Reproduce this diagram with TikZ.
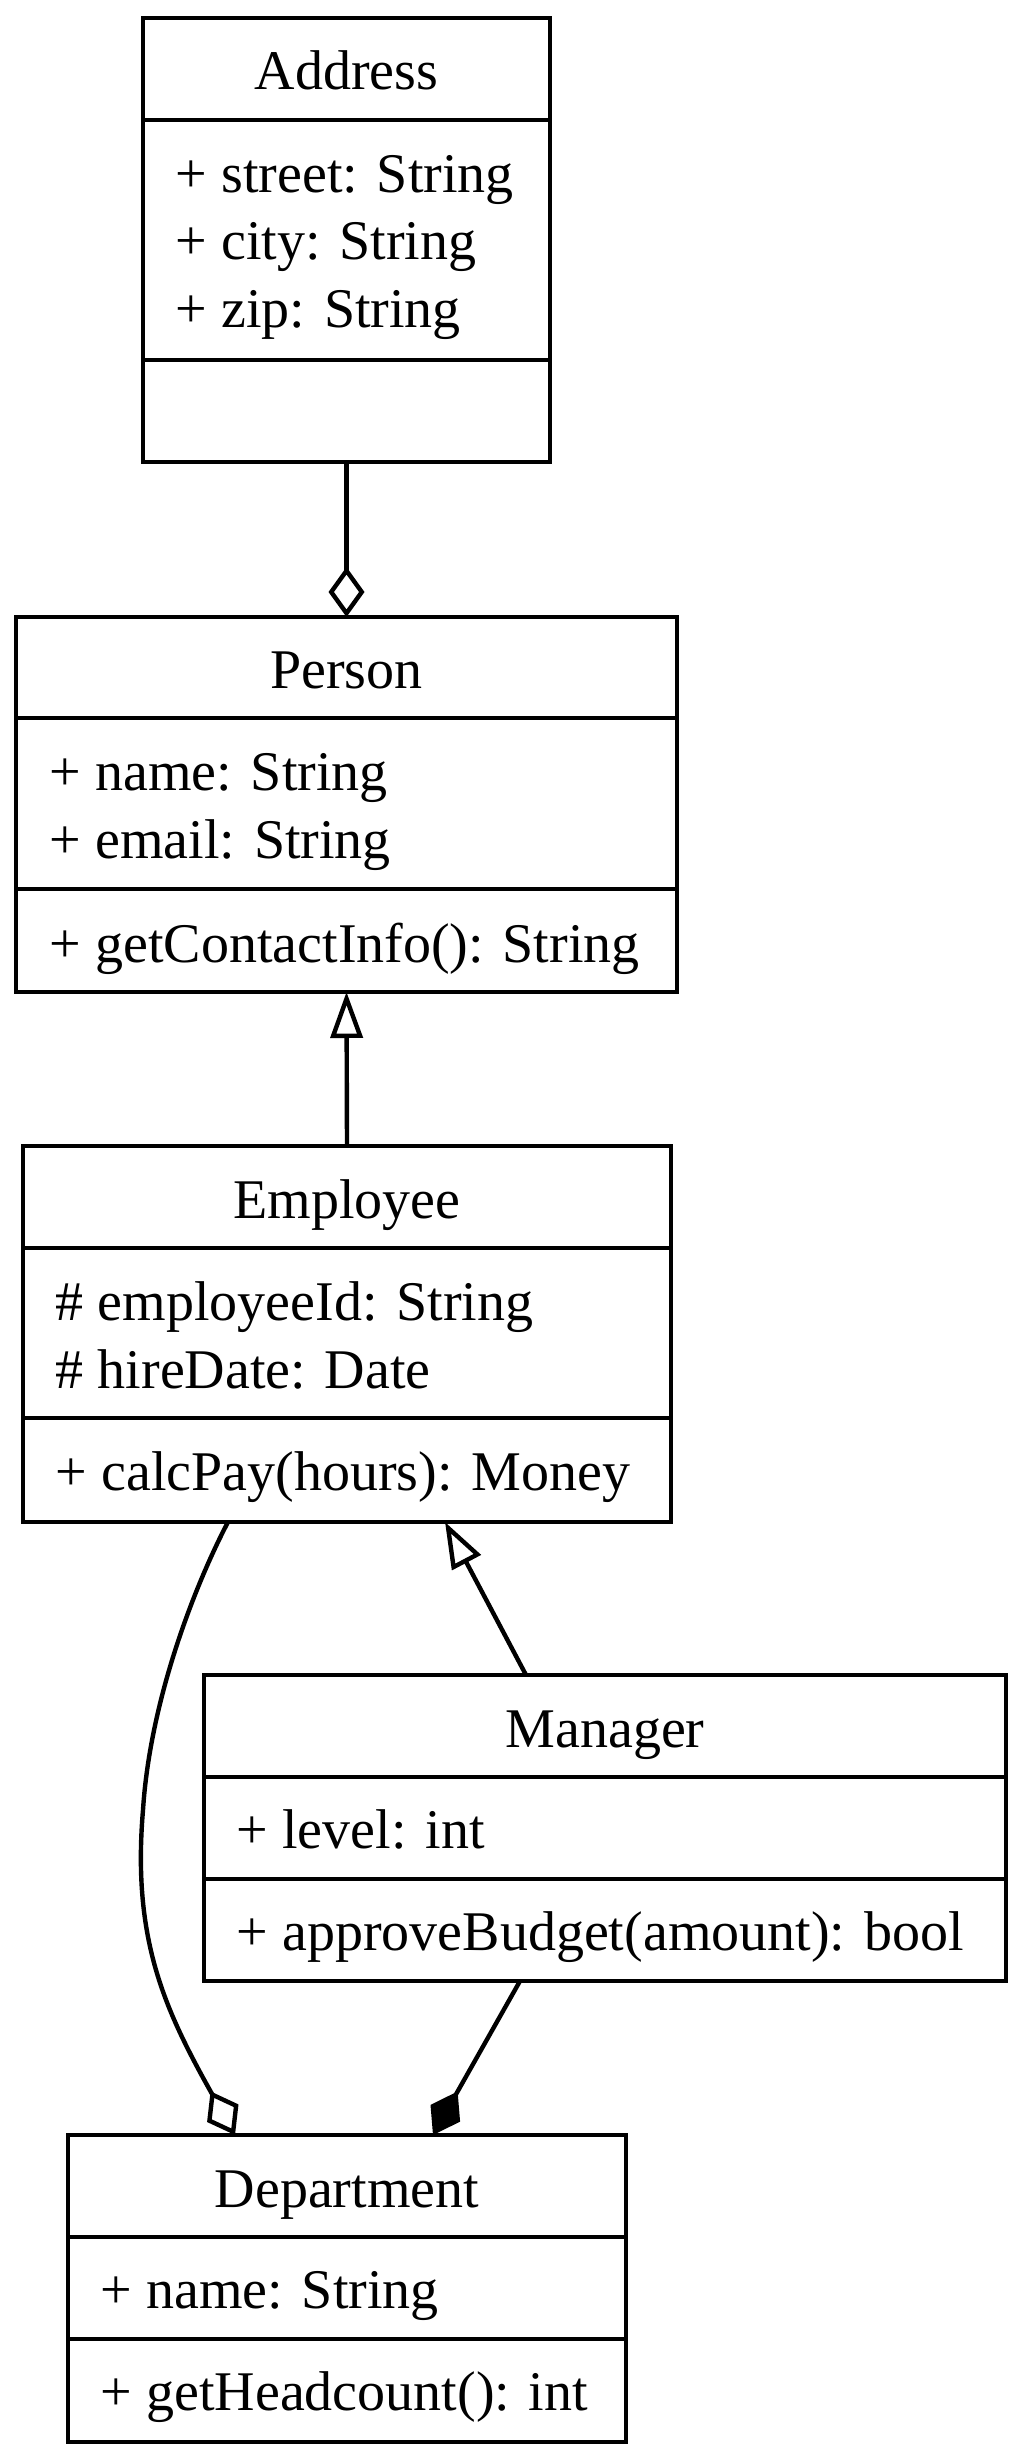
\documentclass[tikz,border=0pt]{standalone}
\usepackage{fontspec}
\setmainfont{Liberation Serif}
\usetikzlibrary{arrows.meta}
\tikzset{
  cls/.style={draw, line width=1.1pt, rectangle, inner sep=0pt, outer sep=0pt, anchor=north west},
  sepline/.style={line width=1.1pt},
  ttl/.style={anchor=base, inner sep=0pt, font=\fontsize{14}{17}\selectfont},
  mem/.style={anchor=base west, inner sep=0pt, font=\fontsize{14}{17}\selectfont},
  conn/.style={line width=1.1pt},
  aggr/.style={conn, -{Diamond[open, length=12.5pt, width=9pt]}},
  comp/.style={conn, -{Diamond[length=12.5pt, width=8.5pt]}},
  inh/.style={conn, -{Triangle[open, length=11.5pt, width=8pt]}}
}
\begin{document}
\begin{tikzpicture}[x=0.25pt, y=-0.25pt]
\useasboundingbox (0,0) rectangle (1022,2460);

% Address
\node[cls, minimum width=101.75pt, minimum height=111pt] (addr) at (143,18) {};
\draw[sepline] (143,120) -- (550,120);
\draw[sepline] (143,360) -- (550,360);
\node[ttl] (addrT) at (346.5,90) {Address};
\node[mem] (addrA1) at (175,193) {+ street: String};
\node[mem] (addrA2) at (175,260) {+ city: String};
\node[mem] (addrA3) at (175,328) {+ zip: String};

% Person
\node[cls, minimum width=165.25pt, minimum height=93.75pt] (person) at (16,617) {};
\draw[sepline] (16,718) -- (677,718);
\draw[sepline] (16,889) -- (677,889);
\node[ttl] (personT) at (346.5,688) {Person};
\node[mem] (personA1) at (49,790) {+ name: String};
\node[mem] (personA2) at (49,858) {+ email: String};
\node[mem] (personM1) at (49,962) {+ getContactInfo(): String};

% Employee
\node[cls, minimum width=162pt, minimum height=94pt] (emp) at (23,1146) {};
\draw[sepline] (23,1248) -- (671,1248);
\draw[sepline] (23,1418) -- (671,1418);
\node[ttl] (empT) at (347,1218) {Employee};
\node[mem] (empA1) at (55,1320) {\# employeeId: String};
\node[mem] (empA2) at (55,1388) {\# hireDate: Date};
\node[mem] (empM1) at (55,1490) {+ calcPay(hours): Money};

% Manager
\node[cls, minimum width=200.5pt, minimum height=76.5pt] (mgr) at (204,1675) {};
\draw[sepline] (204,1777) -- (1006,1777);
\draw[sepline] (204,1879) -- (1006,1879);
\node[ttl] (mgrT) at (605,1747) {Manager};
\node[mem] (mgrA1) at (236,1848) {+ level: int};
\node[mem] (mgrM1) at (236,1950) {+ approveBudget(amount): bool};

% Department
\node[cls, minimum width=139.5pt, minimum height=76.75pt] (dept) at (68,2135) {};
\draw[sepline] (68,2237) -- (626,2237);
\draw[sepline] (68,2339) -- (626,2339);
\node[ttl] (deptT) at (347,2207) {Department};
\node[mem] (deptA1) at (100,2308) {+ name: String};
\node[mem] (deptM1) at (100,2410) {+ getHeadcount(): int};

% connector end points
\coordinate (empB1) at (228,1522);
\coordinate (deptT1) at (235,2135);
\coordinate (mgrT1) at (526,1675);
\coordinate (empB2) at (445,1522);
\coordinate (mgrB1) at (520,1981);
\coordinate (deptT2) at (433,2135);

% connectors
\draw[aggr] (addr.south) -- (person.north);
\draw[inh] (emp.north) -- (person.south);
\draw[inh] (mgrT1) -- (empB2);
\draw[comp] (mgrB1) -- (deptT2);
\draw[aggr] (empB1) .. controls (195,1585) and (150,1700) .. (143,1810)
  .. controls (132,1940) and (165,2010) .. (deptT1);
\end{tikzpicture}
\end{document}
